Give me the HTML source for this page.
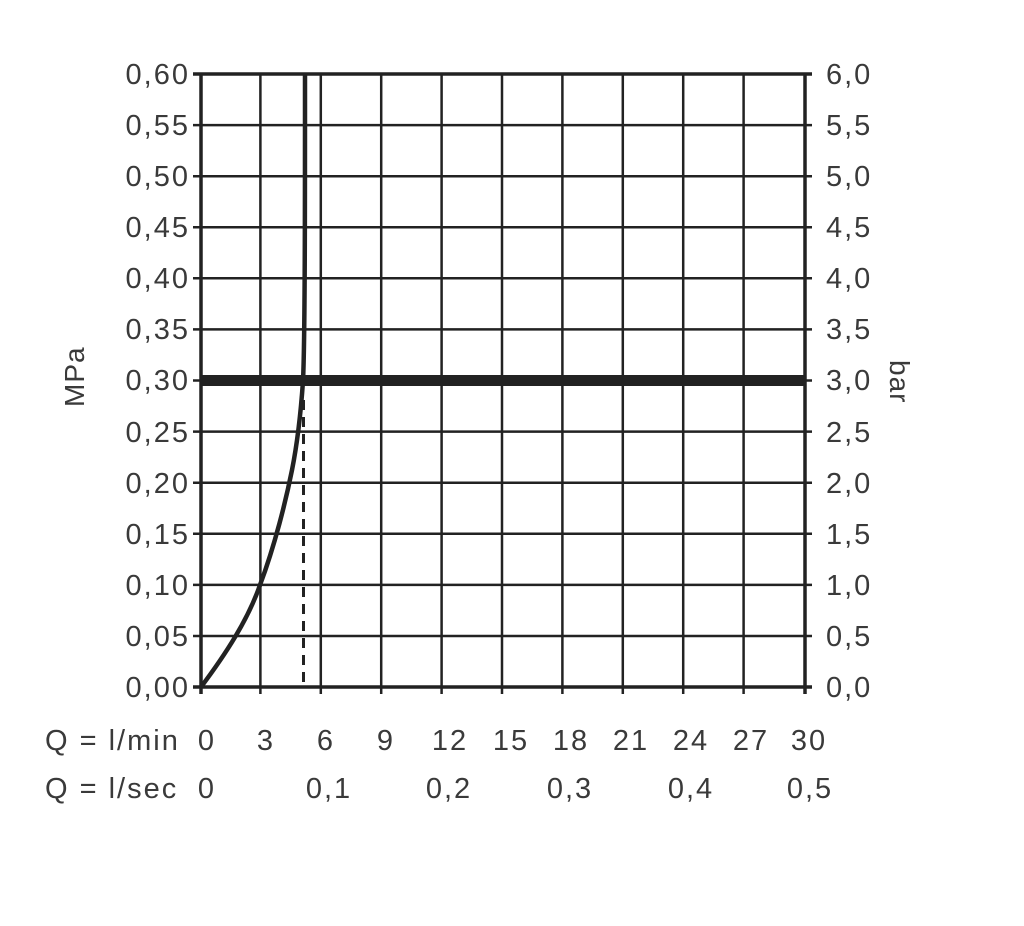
<!DOCTYPE html><html><head><style>body{margin:0;background:#fff}svg text{font-family:"Liberation Sans",sans-serif;fill:#3a3a3a;font-size:29px;letter-spacing:2px}</style></head><body>
<svg width="1024" height="921" xmlns="http://www.w3.org/2000/svg">
<g stroke="#222" stroke-width="2.5">
<line x1="260.4" y1="74" x2="260.4" y2="694"/><line x1="320.8" y1="74" x2="320.8" y2="694"/><line x1="381.2" y1="74" x2="381.2" y2="694"/><line x1="441.6" y1="74" x2="441.6" y2="694"/><line x1="502" y1="74" x2="502" y2="694"/><line x1="562.4" y1="74" x2="562.4" y2="694"/><line x1="622.8" y1="74" x2="622.8" y2="694"/><line x1="683.2" y1="74" x2="683.2" y2="694"/><line x1="743.6" y1="74" x2="743.6" y2="694"/>
<line x1="193" y1="125.1" x2="812" y2="125.1"/><line x1="193" y1="176.2" x2="812" y2="176.2"/><line x1="193" y1="227.2" x2="812" y2="227.2"/><line x1="193" y1="278.3" x2="812" y2="278.3"/><line x1="193" y1="329.4" x2="812" y2="329.4"/><line x1="193" y1="431.6" x2="812" y2="431.6"/><line x1="193" y1="482.7" x2="812" y2="482.7"/><line x1="193" y1="533.8" x2="812" y2="533.8"/><line x1="193" y1="584.9" x2="812" y2="584.9"/><line x1="193" y1="636" x2="812" y2="636"/>
<line x1="193" y1="380.5" x2="812" y2="380.5"/>
</g>
<g stroke="#222" stroke-width="3.5"><line x1="201" y1="73" x2="201" y2="694"/><line x1="805" y1="73" x2="805" y2="694"/><line x1="193" y1="74" x2="812" y2="74"/><line x1="193" y1="687" x2="812" y2="687"/></g>
<line x1="201" y1="380.5" x2="805" y2="380.5" stroke="#222" stroke-width="11"/>
<line x1="303.5" y1="400" x2="303.5" y2="687" stroke="#222" stroke-width="3" stroke-dasharray="10,7"/>
<path d="M201,687 C225,655 248,620 260,585 C275,545 286,500 292,470 C298,440 301,410 303,381 C305,340 305,200 305,74" fill="none" stroke="#222" stroke-width="4.5"/>
<g text-anchor="end">
<text x="190" y="84">0,60</text><text x="190" y="135">0,55</text><text x="190" y="186">0,50</text><text x="190" y="237">0,45</text><text x="190" y="288">0,40</text><text x="190" y="339">0,35</text><text x="190" y="390">0,30</text><text x="190" y="442">0,25</text><text x="190" y="493">0,20</text><text x="190" y="544">0,15</text><text x="190" y="595">0,10</text><text x="190" y="646">0,05</text><text x="190" y="697">0,00</text>
</g>
<g>
<text x="826" y="84">6,0</text><text x="826" y="135">5,5</text><text x="826" y="186">5,0</text><text x="826" y="237">4,5</text><text x="826" y="288">4,0</text><text x="826" y="339">3,5</text><text x="826" y="390">3,0</text><text x="826" y="442">2,5</text><text x="826" y="493">2,0</text><text x="826" y="544">1,5</text><text x="826" y="595">1,0</text><text x="826" y="646">0,5</text><text x="826" y="697">0,0</text>
</g>
<text transform="translate(84,407) rotate(-90)" style="font-size:28px;letter-spacing:1px">MPa</text>
<text transform="translate(890,360) rotate(90)" style="font-size:28px;letter-spacing:1px">bar</text>
<text x="45" y="750">Q = l/min</text><text x="45" y="798">Q = l/sec</text>
<g text-anchor="middle">
<text x="207" y="750">0</text><text x="266" y="750">3</text><text x="326" y="750">6</text><text x="386" y="750">9</text><text x="450" y="750">12</text><text x="511" y="750">15</text><text x="571" y="750">18</text><text x="631" y="750">21</text><text x="691" y="750">24</text><text x="751" y="750">27</text><text x="809" y="750">30</text>
<text x="207" y="798">0</text><text x="329" y="798">0,1</text><text x="449" y="798">0,2</text><text x="570" y="798">0,3</text><text x="691" y="798">0,4</text><text x="810" y="798">0,5</text>
</g>
</svg></body></html>
